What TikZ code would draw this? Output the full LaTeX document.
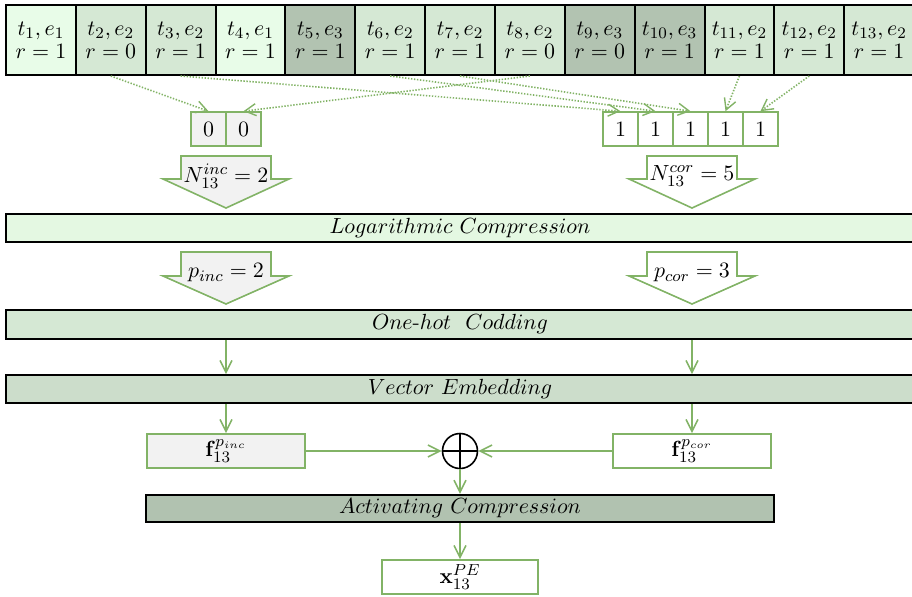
\documentclass[tikz,border=0pt]{standalone}
\usetikzlibrary{arrows.meta}
\definecolor{gline}{HTML}{82B366}
\definecolor{cellA}{HTML}{E8FCE8}
\definecolor{cellB}{HTML}{D5E8D4}
\definecolor{cellC}{HTML}{B2C3B1}
\definecolor{barLog}{HTML}{E4F8E2}
\definecolor{barHot}{HTML}{D5E8D4}
\definecolor{barVec}{HTML}{CCDDCB}
\definecolor{barAct}{HTML}{B1C2B0}
\definecolor{lgrey}{HTML}{F2F2F2}
\begin{document}
\begin{tikzpicture}[x=0.5pt,y=-0.5pt,
  font=\fontsize{11}{13}\selectfont,
  cell/.style={draw=black, line width=1pt, minimum width=34.925pt,
    minimum height=35pt, inner sep=0pt, align=center,
    font=\fontsize{11}{11.5}\selectfont},
  bit/.style={draw=gline, line width=0.8pt, minimum width=17.5pt,
    minimum height=17pt, inner sep=0pt},
  bar/.style={draw=black, line width=0.8pt, minimum height=14pt, inner sep=0pt},
  vecbox/.style={draw=gline, line width=0.8pt, minimum width=79pt,
    minimum height=17pt, inner sep=0pt},
  flow/.style={draw=gline, line width=0.8pt, -{Straight Barb[length=6pt,width=6pt]}},
  link/.style={draw=gline, line width=0.8pt, dash pattern=on 0.7pt off 0.8pt,
    -{Straight Barb[length=5.5pt,width=6pt,line width=0.7pt]}},
  bigarrow/.style={draw=gline, line width=0.8pt, line join=miter},
]
\useasboundingbox (0,0) rectangle (912,596);

% interaction sequence
\foreach \i/\t/\e/\r/\f in {1/1/1/1/cellA, 2/2/2/0/cellB, 3/3/2/1/cellB,
    4/4/1/1/cellA, 5/5/3/1/cellC, 6/6/2/1/cellB, 7/7/2/1/cellB,
    8/8/2/0/cellB, 9/9/3/0/cellC, 10/10/3/1/cellC, 11/11/2/1/cellB,
    12/12/2/1/cellB, 13/13/2/1/cellB}
  \node[cell, fill=\f] (c\i) at ({6+69.85*(\i-0.5)},40) {$t_{\t},e_{\e}$\\$r=\r$};

% incorrect / correct responses on concept e_2
\node[bit, fill=lgrey] (z1) at (208.5,129) {$0$};
\node[bit, fill=lgrey] (z2) at (243.5,129) {$0$};
\foreach \k in {1,...,5}
  \node[bit, fill=white] (o\k) at ({620.5+35*(\k-1)},129) {$1$};

\draw[link] (c2.south) -- (z1.north);
\draw[link] (c8.south) -- (z2.north);
\draw[link] (c3.south) -- (o1.north);
\draw[link] (c6.south) -- (o2.north);
\draw[link] (c7.south) -- (o3.north);
\draw[link] (c11.south) -- (o4.north);
\draw[link] (c12.south) -- (o5.north);

% counts
\path[bigarrow, fill=lgrey] (181,156) -- (271,156) -- (271,179) -- (289,179)
  -- (226,208) -- (163,179) -- (181,179) -- cycle;
\node (ninc) at (226,176) {$N_{13}^{inc}=2$};
\path[bigarrow, fill=white] (647,156) -- (737,156) -- (737,179) -- (755,179)
  -- (692,208) -- (629,179) -- (647,179) -- cycle;
\node (ncor) at (692,176) {$N_{13}^{cor}=5$};

\node[bar, fill=barLog, minimum width=454pt] (logc) at (460,228)
  {$Logarithmic\ Compression$};

% compressed values
\path[bigarrow, fill=lgrey] (181,252) -- (271,252) -- (271,276) -- (289,276)
  -- (226,304) -- (163,276) -- (181,276) -- cycle;
\node (pinc) at (226,273) {$p_{inc}=2$};
\path[bigarrow, fill=white] (647,252) -- (737,252) -- (737,276) -- (755,276)
  -- (692,304) -- (629,276) -- (647,276) -- cycle;
\node (pcor) at (692,273) {$p_{cor}=3$};

\node[bar, fill=barHot, minimum width=454pt, minimum height=14.5pt] (onehot)
  at (460,324.5) {$One\mbox{-}hot\ \ Codding$};
\node[bar, fill=barVec, minimum width=454pt] (vemb) at (460,389)
  {$Vector\ Embedding$};

\node[vecbox, fill=lgrey] (finc) at (226,451) {$\mathbf{f}_{13}^{p_{inc}}$};
\node[vecbox, fill=white] (fcor) at (692,451) {$\mathbf{f}_{13}^{p_{cor}}$};
\node[draw=black, circle, line width=0.8pt, minimum size=17.5pt, inner sep=0pt,
  path picture={\draw[line width=0.8pt]
    (path picture bounding box.north) -- (path picture bounding box.south)
    (path picture bounding box.west) -- (path picture bounding box.east);}]
  (sum) at (460,451) {};

\node[bar, fill=barAct, minimum width=314pt, minimum height=13.75pt] (actc)
  at (460,508.5) {$Activating\ Compression$};
\node[vecbox, fill=white, minimum width=78pt] (xpe) at (460,577)
  {$\mathbf{x}_{13}^{PE}$};

% data flow
\draw[flow] (finc.north |- onehot.south) -- (finc.north |- vemb.north);
\draw[flow] (fcor.north |- onehot.south) -- (fcor.north |- vemb.north);
\draw[flow] (finc.north |- vemb.south) -- (finc.north);
\draw[flow] (fcor.north |- vemb.south) -- (fcor.north);
\draw[flow] (finc.east) -- (sum.west);
\draw[flow] (fcor.west) -- (sum.east);
\draw[flow] (sum.south) -- (sum.south |- actc.north);
\draw[flow] (xpe.north |- actc.south) -- (xpe.north);
\end{tikzpicture}
\end{document}
